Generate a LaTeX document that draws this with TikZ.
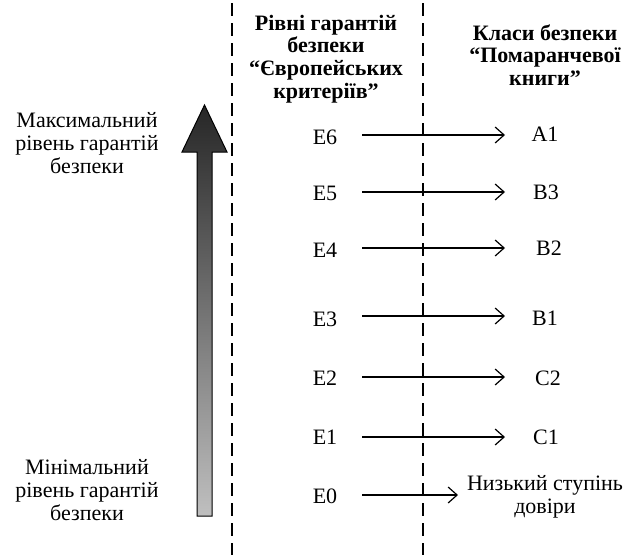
\documentclass[tikz,border=0pt]{standalone}
\usepackage{fontspec}
\setmainfont{Liberation Serif}
\usetikzlibrary{arrows.meta}
\tikzset{
  txt/.style={inner sep=0pt, align=center, font=\fontsize{22}{22.6}\selectfont},
  head/.style={txt, font=\fontsize{22}{22.6}\selectfont\bfseries},
  divider/.style={line width=2.4pt, dash pattern=on 13pt off 7pt},
  mapto/.style={line width=1.2pt, -{Straight Barb[length=9pt,width=16pt,line width=1.2pt]}},
}
\begin{document}
\begin{tikzpicture}[x=1pt,y=-1pt]
\useasboundingbox (0,0) rectangle (634,555);

% column dividers
\draw[divider] (232,3) coordinate (d1a) -- (232,555) coordinate (d1b);
\draw[divider] (423,3) coordinate (d2a) -- (423,555) coordinate (d2b);

% scale of assurance levels
\shade[top color=black!85, bottom color=black!25, draw=black, line width=1pt]
  (197,516) -- (197,152) -- (182,152) -- (204.5,105) -- (227,152) -- (212,152) -- (212,516) -- cycle;
\node[txt] (maxl) at (87,143) {Максимальний\\рівень гарантій\\безпеки};
\node[txt] (minl) at (87,490) {Мінімальний\\рівень гарантій\\безпеки};

% column headers
\node[head] (h1) at (326,59) {Рівні гарантій\\безпеки\\“Європейських\\критеріїв”};
\node[head] (h2) at (545,55) {Класи безпеки\\“Помаранчевої\\книги”};

% levels of the European criteria
\node[txt] (e6) at (325,137) {E6};
\node[txt] (e5) at (325,193) {E5};
\node[txt] (e4) at (325,250) {E4};
\node[txt] (e3) at (325,319) {E3};
\node[txt] (e2) at (325,378) {E2};
\node[txt] (e1) at (325,437) {E1};
\node[txt] (e0) at (325,496) {E0};

% classes of the Orange Book
\node[txt] (a1) at (545,134) {A1};
\node[txt] (b3) at (546,192) {B3};
\node[txt] (b2) at (549,248) {B2};
\node[txt] (b1) at (545,318) {B1};
\node[txt] (c2) at (548,378) {C2};
\node[txt] (c1) at (546,437) {C1};
\node[txt] (low) at (545,497) {Низький ступінь\\довіри};

% correspondence arrows
\foreach \src/\dst/\y in {e6/a1/135, e5/b3/192, e4/b2/248, e3/b1/316, e2/c2/377, e1/c1/437}{
  \coordinate (\src-out) at (362,\y);
  \coordinate (\dst-in) at (505,\y);
  \draw[mapto] (\src-out) -- (\dst-in);
}
\coordinate (e0-out) at (362,495);
\coordinate (low-in) at (458,495);
\draw[mapto] (e0-out) -- (low-in);
\end{tikzpicture}
\end{document}
